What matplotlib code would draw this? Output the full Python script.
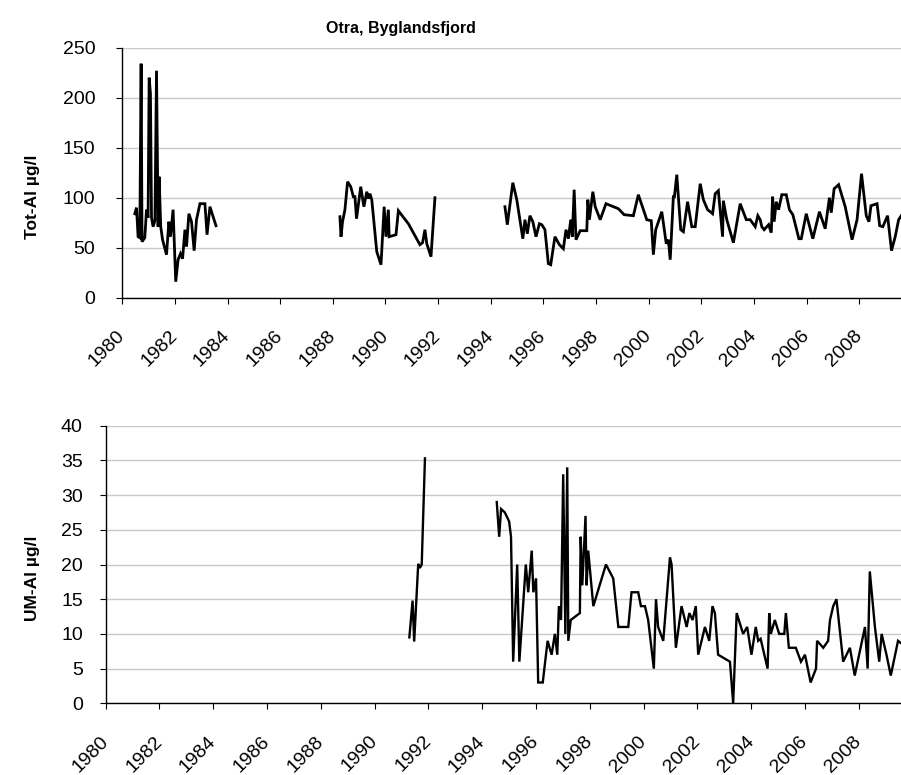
import numpy as np
import matplotlib
matplotlib.use("Agg")
import matplotlib.pyplot as plt

plt.rcParams['font.family'] = ['Liberation Sans', 'DejaVu Sans']

title = "Otra, Byglandsfjord"
top_ylabel = "Tot-Al µg/l"
bot_ylabel = "UM-Al µg/l"
year_ticks = list(range(1980, 2010, 2))
top_yticks = [0, 50, 100, 150, 200, 250]
bot_yticks = [0, 5, 10, 15, 20, 25, 30, 35, 40]

# ---- Tot-Al (decimal years, µg/l), three sampling periods ----
tot1_x = [1980.475, 1980.54, 1980.60, 1980.665, 1980.715, 1980.75, 1980.855, 1980.92, 1980.98,
          1981.02, 1981.07, 1981.11, 1981.17, 1981.24, 1981.30, 1981.36, 1981.40, 1981.46,
          1981.53, 1981.68, 1981.77, 1981.83, 1981.93, 1982.03, 1982.12, 1982.21, 1982.29,
          1982.38, 1982.44, 1982.53, 1982.63, 1982.73, 1982.82, 1982.95, 1983.14, 1983.22,
          1983.33, 1983.56]
tot1_y = [84, 90, 61, 60, 234, 56, 60, 88, 80,
          220, 204, 80, 71, 77, 227, 71, 121, 71,
          58, 43, 76, 61, 88, 16, 38, 44, 39,
          68, 51, 84, 76, 47, 78, 94, 94, 63,
          91, 72]

tot2_x = [1988.27, 1988.31, 1988.37, 1988.46, 1988.56, 1988.68, 1988.78, 1988.84, 1988.90,
          1989.06, 1989.18, 1989.29, 1989.35, 1989.41, 1989.48, 1989.67, 1989.83, 1989.95,
          1990.02, 1990.11, 1990.14, 1990.40, 1990.49, 1990.87, 1991.31, 1991.41, 1991.50,
          1991.57, 1991.73, 1991.88]
tot2_y = [81, 61, 76, 88, 116, 111, 101, 101, 79,
          111, 91, 106, 99, 104, 98, 46, 33, 91,
          61, 88, 61, 63, 87, 74, 53, 55, 68,
          54, 41, 100]

tot3_x = [1994.54, 1994.63, 1994.84, 1994.99, 1995.22, 1995.30, 1995.39, 1995.49, 1995.60,
          1995.72, 1995.85, 1995.94, 1996.06, 1996.19, 1996.28, 1996.44, 1996.61, 1996.76,
          1996.86, 1996.95, 1997.04, 1997.10, 1997.17, 1997.24, 1997.40, 1997.65, 1997.69,
          1997.75, 1997.88, 1997.97, 1998.16, 1998.38, 1998.85, 1999.07, 1999.42, 1999.61,
          1999.93, 2000.10, 2000.18, 2000.27, 2000.50, 2000.67, 2000.75, 2000.82, 2000.94,
          2000.98, 2001.07, 2001.22, 2001.32, 2001.48, 2001.64, 2001.77, 2001.96, 2002.08,
          2002.24, 2002.34, 2002.43, 2002.53, 2002.65, 2002.81, 2002.84, 2002.97, 2003.22,
          2003.48, 2003.71, 2003.86, 2004.05, 2004.15, 2004.24, 2004.30, 2004.39, 2004.56,
          2004.66, 2004.71, 2004.77, 2004.85, 2004.94, 2005.06, 2005.23, 2005.35, 2005.48,
          2005.71, 2005.80, 2005.99, 2006.24, 2006.49, 2006.71, 2006.87, 2006.94, 2007.05,
          2007.22, 2007.47, 2007.73, 2007.92, 2008.09, 2008.27, 2008.37, 2008.45, 2008.68,
          2008.78, 2008.90, 2009.08, 2009.23, 2009.37, 2009.50, 2009.60]
tot3_y = [91, 73, 115, 98, 59, 78, 64, 82, 76,
          61, 74, 73, 68, 34, 33, 61, 53, 49,
          68, 59, 78, 61, 108, 58, 67, 67, 98,
          78, 106, 91, 78, 94, 89, 83, 82, 103,
          78, 77, 43, 68, 86, 54, 58, 38, 101,
          101, 123, 68, 66, 96, 71, 71, 114, 98,
          88, 86, 84, 104, 107, 61, 97, 78, 55,
          94, 78, 78, 71, 82, 78, 71, 68, 73,
          65, 101, 76, 96, 88, 103, 103, 88, 83,
          59, 59, 84, 59, 86, 69, 100, 85, 109,
          113, 91, 58, 78, 124, 82, 76, 92, 94,
          72, 71, 82, 47, 61, 78, 82]

# ---- UM-Al (decimal years, µg/l), two sampling periods ----
um1_x = [1991.29, 1991.41, 1991.47, 1991.62, 1991.68, 1991.75, 1991.87]
um1_y = [9.5, 14.8, 8.9, 20.1, 19.5, 20, 35.3]

um2_x = [1994.54, 1994.63, 1994.70, 1994.84, 1995.00, 1995.07, 1995.15, 1995.30, 1995.38,
         1995.62, 1995.71, 1995.84, 1995.90, 1996.00, 1996.08, 1996.25, 1996.43, 1996.58,
         1996.70, 1996.79, 1996.85, 1996.93, 1997.01, 1997.09, 1997.16, 1997.20, 1997.29,
         1997.63, 1997.66, 1997.72, 1997.84, 1997.88, 1997.94, 1998.13, 1998.60, 1998.87,
         1999.06, 1999.43, 1999.55, 1999.80, 1999.90, 2000.05, 2000.17, 2000.38, 2000.46,
         2000.54, 2000.73, 2000.98, 2001.04, 2001.20, 2001.41, 2001.60, 2001.70, 2001.82,
         2001.94, 2002.03, 2002.28, 2002.44, 2002.56, 2002.65, 2002.77, 2003.21, 2003.33,
         2003.46, 2003.70, 2003.85, 2004.01, 2004.17, 2004.26, 2004.35, 2004.61, 2004.67,
         2004.73, 2004.88, 2005.04, 2005.23, 2005.29, 2005.40, 2005.66, 2005.85, 2006.00,
         2006.21, 2006.41, 2006.45, 2006.68, 2006.86, 2006.93, 2007.05, 2007.17, 2007.42,
         2007.67, 2007.85, 2008.23, 2008.33, 2008.41, 2008.60, 2008.76, 2008.85, 2009.03,
         2009.19, 2009.46, 2009.56]
um2_y = [29, 24, 28, 27.5, 26.2, 24, 6, 20, 6,
         20, 16, 22, 16, 18, 3, 3, 9, 7,
         10, 7, 14, 12, 33, 10, 34, 9, 12,
         13, 24, 17, 27, 17, 22, 14, 20, 18,
         11, 11, 16, 16, 14, 14, 12, 5, 15,
         11, 9, 21, 20, 8, 14, 11, 13, 12,
         14, 7, 11, 9, 14, 13, 7, 6, 0,
         13, 10, 11, 7, 11, 9, 9.3, 5, 13,
         10, 12, 10, 10, 13, 8, 8, 6, 7,
         3, 5, 9, 8, 9, 12, 14, 15, 6,
         8, 4, 11, 5, 19, 11, 6, 10, 7,
         4, 9, 8.7]

W, H = 901, 775
fig = plt.figure(figsize=(W / 100, H / 100), dpi=100)

grid_col = "#c8c8c8"
tick_fs = 14
lab_fs = 12.5


def style(ax, yticks, ymax, xmax, ypad):
    ax.set_xlim(1980, xmax)
    ax.set_ylim(0, ymax)
    ax.set_yticks(yticks)
    ax.set_xticks(year_ticks)
    ax.set_xticklabels([str(y) for y in year_ticks], rotation=45, ha='right',
                       va='center', rotation_mode='anchor')
    for s in ['top', 'right']:
        ax.spines[s].set_visible(False)
    for s in ['left', 'bottom']:
        ax.spines[s].set_color('black')
        ax.spines[s].set_linewidth(1.0)
    ax.grid(axis='y', color=grid_col, linewidth=1.0)
    ax.set_axisbelow(True)
    ax.tick_params(axis='y', direction='out', length=4.5, width=0.8,
                   labelsize=tick_fs, pad=ypad, colors='black')
    ax.tick_params(axis='x', direction='out', length=4.5, width=0.8,
                   labelsize=tick_fs, pad=21, colors='black')


# Top axes
ax1 = fig.add_axes([122.3 / W, 1 - 297.7 / H, (W - 122.3) / W, (297.7 - 47.7) / H])
for xs, ys in [(tot1_x, tot1_y), (tot2_x, tot2_y), (tot3_x, tot3_y)]:
    ax1.plot(xs, ys, color='black', linewidth=2.0, solid_joinstyle='miter')
style(ax1, top_yticks, 250, 2009.59, 15)

# Bottom axes
ax2 = fig.add_axes([105.7 / W, 1 - 703.3 / H, (W - 105.7) / W, (703.3 - 425.7) / H])
for xs, ys in [(um1_x, um1_y), (um2_x, um2_y)]:
    ax2.plot(xs, ys, color='black', linewidth=1.7, solid_joinstyle='miter')
style(ax2, bot_yticks, 40, 2009.57, 12)

fig.text(401 / W, 1 - 28 / H, title, ha='center', va='center',
         fontsize=11.5, fontweight='bold')
fig.text(33 / W, 1 - 197 / H, top_ylabel, ha='center', va='center',
         rotation=90, fontsize=lab_fs, fontweight='bold')
fig.text(33 / W, 1 - 578 / H, bot_ylabel, ha='center', va='center',
         rotation=90, fontsize=lab_fs, fontweight='bold')

fig.savefig("out.png", dpi=100)
